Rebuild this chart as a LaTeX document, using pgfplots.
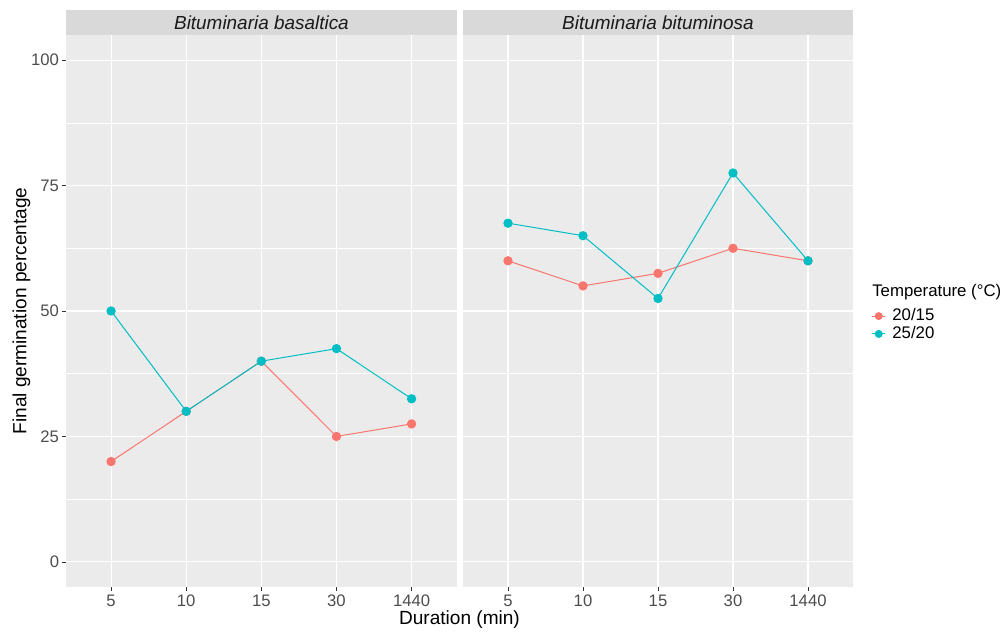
\documentclass[border=0pt]{standalone}
\usepackage{pgfplots}
\pgfplotsset{compat=1.18}
\usepackage{fontspec}
\setmainfont{Liberation Sans}
\definecolor{ggbg}{HTML}{EBEBEB}
\definecolor{ggstrip}{HTML}{D9D9D9}
\definecolor{ggred}{HTML}{F8766D}
\definecolor{ggcyan}{HTML}{00BFC4}
\definecolor{ggtick}{HTML}{333333}
\definecolor{gglab}{HTML}{4D4D4D}
\definecolor{ggstriptext}{HTML}{1A1A1A}

\pgfplotstableread{
x a b
1 20 50
2 30 30
3 40 40
4 25 42.5
5 27.5 32.5
}\basaltica
\pgfplotstableread{
x a b
1 60 67.5
2 55 65
3 57.5 52.5
4 62.5 77.5
5 60 60
}\bituminosa

\pgfplotsset{
  ggpanel/.style={
    scale only axis,
    width=293pt, height=414pt,
    anchor=south west,
    xmin=0.4, xmax=5.6, ymin=-5, ymax=105,
    xtick={1,2,3,4,5},
    xticklabels={5,10,15,30,1440},
    ytick={0,25,50,75,100},
    minor ytick={12.5,37.5,62.5,87.5},
    grid=both,
    major grid style={white, line width=0.85pt},
    minor grid style={white, line width=0.4pt},
    axis background/.style={fill=ggbg},
    axis line style={draw=none},
    tick align=outside,
    xtick pos=bottom, ytick pos=left,
    major tick length=2.7pt,
    minor tick length=0pt,
    tick style={ggtick, line width=0.6pt},
    tick label style={font=\fontsize{12.5}{14}\selectfont, text=gglab},
    xticklabel style={yshift=0.5pt},
    yticklabel style={xshift=1pt},
    every axis plot/.append style={line width=0.75pt, mark=*, mark size=3.1pt},
  },
}

\begin{document}
\begin{tikzpicture}
\useasboundingbox (0,0) rectangle (756pt,474pt);

\begin{axis}[ggpanel, at={(49.5pt,33.75pt)},
  yticklabels={0,25,50,75,100}]
\addplot[ggred, mark options={fill=ggred, draw=ggred}] table[x=x,y=a] {\basaltica};
\addplot[ggcyan, mark options={fill=ggcyan, draw=ggcyan}] table[x=x,y=b] {\basaltica};
\end{axis}

\begin{axis}[ggpanel, at={(347.25pt,33.75pt)}, width=292.5pt,
  yticklabels={}, ytick style={draw=none},
  legend style={at={(1.047,0.4746)}, anchor=west, draw=none, fill=none,
    inner sep=0pt, row sep=0pt, column sep=4pt,
    font=\fontsize{12.6}{13}\selectfont,
    nodes={inner sep=0.8pt, text height=9.4pt, text depth=2.4pt}},
  legend cell align=left,
  legend image code/.code={%
    \draw[#1, mark repeat=2, mark phase=2, mark size=2.6pt] plot coordinates {(0pt,0pt) (5pt,0pt) (10pt,0pt)};},
  ]
\addplot[ggred, mark options={fill=ggred, draw=ggred}] table[x=x,y=a] {\bituminosa};
\addlegendentry{20/15}
\addplot[ggcyan, mark options={fill=ggcyan, draw=ggcyan}] table[x=x,y=b] {\bituminosa};
\addlegendentry{25/20}
\end{axis}

% facet strips
\fill[ggstrip] (49.5pt,447.75pt) rectangle (342.75pt,466.5pt);
\fill[ggstrip] (347.25pt,447.75pt) rectangle (639.75pt,466.5pt);
\node[text=ggstriptext, font=\fontsize{14.2}{16}\itshape] at (196.1pt,457.1pt) {Bituminaria basaltica};
\node[text=ggstriptext, font=\fontsize{14.2}{16}\itshape] at (493.5pt,457.1pt) {Bituminaria bituminosa};

% axis titles
\node[font=\fontsize{14.3}{16}\selectfont, rotate=90] at (16pt,240.75pt) {Final germination percentage};
\node[font=\fontsize{14.3}{16}\selectfont] at (344.6pt,9.5pt) {Duration (min)};

% legend title
\node[font=\fontsize{12.6}{14}\selectfont, anchor=base west, inner sep=0pt] at (654pt,251.25pt) {Temperature (°C)};
\end{tikzpicture}
\end{document}
